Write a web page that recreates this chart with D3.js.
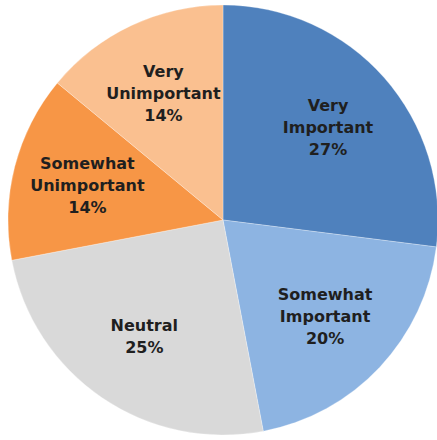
<!DOCTYPE html>
<html>
<head>
<meta charset="utf-8">
<script src="https://cdn.jsdelivr.net/npm/d3@7"></script>
<style>
  html, body { margin: 0; padding: 0; background: #ffffff; }
  svg { display: block; }
</style>
</head>
<body>
<div id="chart"></div>
<script>
const categories = ["Very Important", "Somewhat Important", "Neutral", "Somewhat Unimportant", "Very Unimportant"];
const labelLines = [["Very", "Important"], ["Somewhat", "Important"], ["Neutral"], ["Somewhat", "Unimportant"], ["Very", "Unimportant"]];
const values = [27, 20, 25, 14, 14];
const colors = ["#4f81bd", "#8db4e2", "#d9d9d9", "#f79646", "#fac090"];

const width = 437, height = 440;
const cx = 223, cy = 220, radius = 215, labelRadius = 140;

const svg = d3.select("#chart").append("svg")
  .attr("width", width).attr("height", height);

const data = categories.map((c, i) => ({ category: c, value: values[i], lines: labelLines[i], color: colors[i] }));

const pie = d3.pie().value(d => d.value).sort(null);
const arcs = pie(data);

const arc = d3.arc().innerRadius(0).outerRadius(radius);
const labelArc = d3.arc().innerRadius(labelRadius).outerRadius(labelRadius);

const g = svg.append("g").attr("transform", `translate(${cx},${cy})`);

g.selectAll("path.slice").data(arcs).enter().append("path")
  .attr("class", "slice")
  .attr("d", arc)
  .attr("fill", d => d.data.color)
  .attr("stroke", "#ffffff")
  .attr("stroke-opacity", 0.35)
  .attr("stroke-width", 0.8);

const lineH = 22;
const labels = g.selectAll("text.lbl").data(arcs).enter().append("text")
  .attr("class", "lbl")
  .attr("transform", d => `translate(${labelArc.centroid(d)})`)
  .attr("text-anchor", "middle")
  .attr("font-family", "'DejaVu Sans', Verdana, sans-serif")
  .attr("font-weight", "bold")
  .attr("font-size", "16px")
  .attr("fill", "#1f1f1f");

labels.each(function(d) {
  const lines = d.data.lines.concat([d.data.value + "%"]);
  const n = lines.length;
  const t = d3.select(this);
  lines.forEach((ln, i) => {
    t.append("tspan")
      .attr("x", 0)
      .attr("y", (i - (n - 1) / 2) * lineH + 6)
      .text(ln);
  });
});
</script>
</body>
</html>
